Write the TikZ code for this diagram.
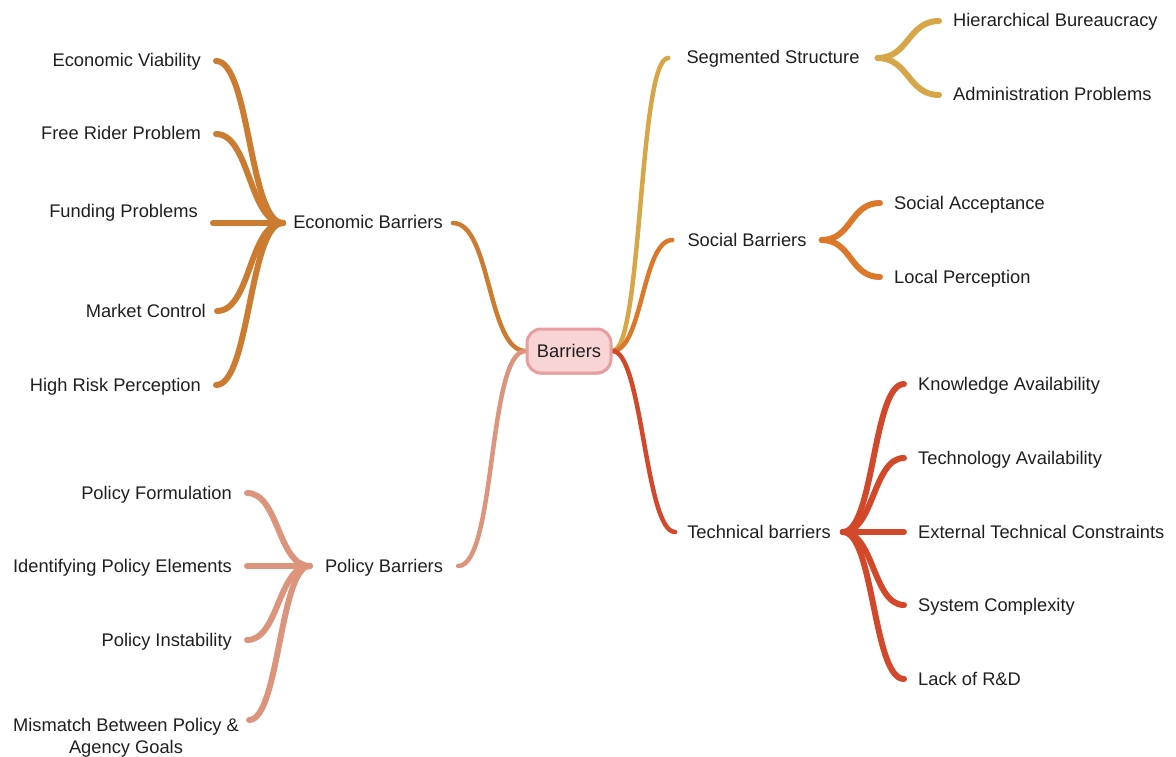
\documentclass[tikz,border=0pt]{standalone}
\usepackage{fontspec}
\setmainfont{Liberation Sans}
\usetikzlibrary{backgrounds,shadows}

\definecolor{econ}{RGB}{204,124,48}
\definecolor{poli}{RGB}{220,148,124}
\definecolor{segm}{RGB}{214,166,72}
\definecolor{soci}{RGB}{220,120,42}
\definecolor{tech}{RGB}{210,72,42}
\definecolor{rootfill}{RGB}{248,212,212}
\definecolor{rootline}{RGB}{232,158,158}

\tikzset{
  base/.style={font=\fontsize{18.3}{22}\selectfont, text height=12pt, text depth=0pt, inner ysep=2pt, text=black!88},
  lleaf/.style={base, anchor=east, inner xsep=15pt},
  rleaf/.style={base, anchor=west, inner xsep=14pt},
  mid/.style={base, inner xsep=#1},
  twig/.style={line width=6pt, line cap=round},
  trunk/.style={line width=4.5pt, line cap=round},
  rootbox/.style={base, draw=rootline, fill=rootfill, line width=3pt, rounded corners=14pt,
    minimum width=84pt, minimum height=44pt,
    drop shadow={opacity=0.3, shadow xshift=0.8pt, shadow yshift=-1.8pt}},
}

\begin{document}
\begin{tikzpicture}[x=1pt,y=-1pt]
\useasboundingbox (0,0) rectangle (1176,757);

% root
\node[rootbox] (bar) at (569,351) {Barriers};

% first-level topics
\node[mid=10pt] (eb) at (368,223) {Economic Barriers};
\node[mid=15pt] (pb) at (384,566) {Policy Barriers};
\node[mid=18pt] (ss) at (773,58) {Segmented Structure};
\node[mid=15pt] (sb) at (747,240) {Social Barriers};
\node[mid=12pt] (tb) at (759,532) {Technical barriers};

% economic leaves
\node[lleaf] (e1) at (216,61) {Economic Viability};
\node[lleaf] (e2) at (216,134) {Free Rider Problem};
\node[lleaf] (e3) at (213,212) {Funding Problems};
\node[lleaf] (e4) at (221,311) {Market Control};
\node[lleaf] (e5) at (216,385) {High Risk Perception};

% policy leaves
\node[lleaf] (p1) at (247,493) {Policy Formulation};
\node[lleaf] (p2) at (247,566) {Identifying Policy Elements};
\node[lleaf] (p3) at (247,640) {Policy Instability};
\node[base, align=center, inner xsep=0pt] (p4) at (126,747) {Mismatch Between Policy \&\\Agency Goals};

% segmented leaves
\node[rleaf] (s1) at (939,21) {Hierarchical Bureaucracy};
\node[rleaf] (s2) at (939,95) {Administration Problems};

% social leaves
\node[rleaf] (c1) at (880,203) {Social Acceptance};
\node[rleaf] (c2) at (880,277) {Local Perception};

% technical leaves
\node[rleaf] (t1) at (904,384) {Knowledge Availability};
\node[rleaf] (t2) at (904,458) {Technology Availability};
\node[rleaf] (t3) at (904,532) {External Technical Constraints};
\node[rleaf] (t4) at (904,605) {System Complexity};
\node[rleaf] (t5) at (904,679) {Lack of R\&D};

\begin{scope}[on background layer]
  % trunks from the root
  \draw[trunk, econ] (bar.west) .. controls +(-38,0) and +(38,0) .. (eb.east);
  \draw[trunk, poli] (bar.west) .. controls +(-38,0) and +(38,0) .. (pb.east);
  \draw[trunk, segm] (bar.east) .. controls +(30,0) and +(-30,0) .. (ss.west);
  \draw[trunk, soci] (bar.east) .. controls +(30,0) and +(-30,0) .. (sb.west);
  \draw[trunk, tech] (bar.east) .. controls +(30,0) and +(-30,0) .. (tb.west);

  % economic twigs
  \draw[twig, econ] (e1.east) .. controls +(34,0) and +(-34,0) .. (eb.west);
  \draw[twig, econ] (e2.east) .. controls +(34,0) and +(-34,0) .. (eb.west);
  \draw[twig, econ] ([yshift=-11pt]e3.east) -- (eb.west);
  \draw[twig, econ] ([xshift=-4pt]e4.east) .. controls +(34,0) and +(-34,0) .. (eb.west);
  \draw[twig, econ] (e5.east) .. controls +(34,0) and +(-34,0) .. (eb.west);

  % policy twigs
  \draw[twig, poli] (p1.east) .. controls +(32,0) and +(-32,0) .. (pb.west);
  \draw[twig, poli] (p2.east) -- (pb.west);
  \draw[twig, poli] (p3.east) .. controls +(32,0) and +(-32,0) .. (pb.west);
  \draw[twig, poli] ([xshift=10pt,yshift=27pt]p4.east) .. controls +(30,0) and +(-30,0) .. (pb.west);

  % segmented twigs
  \draw[twig, segm] (ss.east) .. controls +(31,0) and +(-31,0) .. (s1.west);
  \draw[twig, segm] (ss.east) .. controls +(31,0) and +(-31,0) .. (s2.west);

  % social twigs
  \draw[twig, soci] (sb.east) .. controls +(30,0) and +(-30,0) .. (c1.west);
  \draw[twig, soci] (sb.east) .. controls +(30,0) and +(-30,0) .. (c2.west);

  % technical twigs
  \draw[twig, tech] (tb.east) .. controls +(31,0) and +(-31,0) .. (t1.west);
  \draw[twig, tech] (tb.east) .. controls +(31,0) and +(-31,0) .. (t2.west);
  \draw[twig, tech] (tb.east) -- (t3.west);
  \draw[twig, tech] (tb.east) .. controls +(31,0) and +(-31,0) .. (t4.west);
  \draw[twig, tech] (tb.east) .. controls +(31,0) and +(-31,0) .. (t5.west);
\end{scope}
\end{tikzpicture}
\end{document}
